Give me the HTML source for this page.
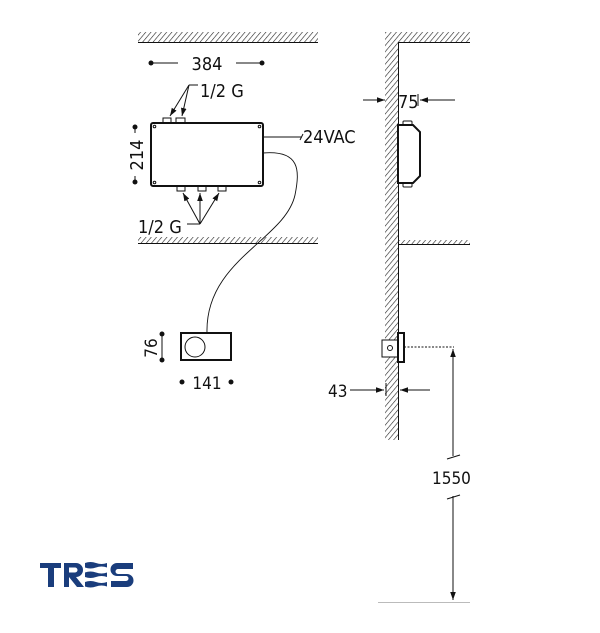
<!DOCTYPE html>
<html><head><meta charset="utf-8"><style>
html,body{margin:0;padding:0;background:#fff}
svg{display:block}
text{font-family:"DejaVu Sans Condensed","DejaVu Sans","Liberation Sans",sans-serif;fill:#111}
</style></head><body>
<svg width="600" height="633" viewBox="0 0 600 633" xmlns="http://www.w3.org/2000/svg">
<defs>
<pattern id="h" width="4" height="4" patternUnits="userSpaceOnUse" patternTransform="rotate(40)">
<line x1="0" y1="0" x2="0" y2="4" stroke="#222" stroke-width="1.2"/>
</pattern>
<marker id="a" viewBox="0 0 10 10" refX="10" refY="5" markerWidth="8" markerHeight="8" orient="auto-start-reverse" markerUnits="userSpaceOnUse">
<path d="M0,1.5 L10,5 L0,8.5 z" fill="#111"/>
</marker>
</defs>
<g stroke="#111" fill="none" stroke-width="1">
<rect x="138" y="32" width="180" height="10" fill="url(#h)" stroke="none"/>
<line x1="138" y1="42.5" x2="318" y2="42.5"/>
<rect x="138" y="237" width="180" height="6" fill="url(#h)" stroke="none"/>
<line x1="138" y1="243.5" x2="318" y2="243.5"/>
<line x1="151" y1="63" x2="178" y2="63"/><line x1="236" y1="63" x2="262" y2="63"/>
<rect x="151" y="123" width="112" height="63" rx="2" stroke-width="2"/>
<circle cx="154.5" cy="126.5" r="1.3"/><circle cx="259.5" cy="126.5" r="1.3"/><circle cx="154.5" cy="182.5" r="1.3"/><circle cx="259.5" cy="182.5" r="1.3"/>
<rect x="163" y="118" width="8" height="5"/><rect x="176" y="118" width="9" height="5"/>
<rect x="177" y="186" width="8" height="5"/><rect x="198" y="186" width="8" height="5"/><rect x="218" y="186" width="8" height="5"/>
<line x1="198" y1="85" x2="189" y2="85"/>
<line x1="189" y1="85" x2="170" y2="116" marker-end="url(#a)"/>
<line x1="189" y1="85" x2="182" y2="116" marker-end="url(#a)"/>
<line x1="187" y1="224" x2="200" y2="224"/>
<line x1="200" y1="224" x2="183" y2="193" marker-end="url(#a)"/>
<line x1="200" y1="224" x2="200" y2="193" marker-end="url(#a)"/>
<line x1="200" y1="224" x2="219" y2="193" marker-end="url(#a)"/>
<line x1="135" y1="127" x2="135" y2="133"/><line x1="135" y1="176" x2="135" y2="182"/>
<line x1="263" y1="137" x2="302" y2="137"/><line x1="300" y1="140" x2="303" y2="134"/>
<path d="M263,153 C300,150 300,170 295,195 C285,240 205,260 207,333" stroke-width="0.9"/>
<rect x="181" y="333" width="50" height="27" stroke-width="2"/>
<circle cx="195" cy="347" r="10"/>
<line x1="162" y1="334" x2="162" y2="360"/>
<rect x="385" y="32" width="13" height="408" fill="url(#h)" stroke="none"/>
<rect x="398" y="32" width="72" height="10" fill="url(#h)" stroke="none"/>
<line x1="398" y1="42.5" x2="470" y2="42.5"/>
<line x1="398.5" y1="42" x2="398.5" y2="440"/>
<rect x="398" y="240" width="72" height="4" fill="url(#h)" stroke="none"/>
<line x1="398" y1="244.5" x2="470" y2="244.5"/>
<line x1="363" y1="100" x2="385" y2="100" marker-end="url(#a)"/>
<line x1="418" y1="94" x2="418" y2="106"/>
<line x1="455" y1="100" x2="420" y2="100" marker-end="url(#a)"/>
<path d="M398,125 L413,125 L420,132 L420,176 L413,183 L398,183 Z" stroke-width="2" fill="#fff"/>
<rect x="403" y="121" width="9" height="4" rx="1"/><rect x="403" y="183" width="9" height="4" rx="1"/>
<rect x="382" y="340" width="16" height="17" fill="#fff"/>
<circle cx="390" cy="348" r="2.5"/>
<rect x="398" y="333" width="6" height="29" stroke-width="2" fill="#fff"/>
<line x1="404" y1="347" x2="454" y2="347" stroke-dasharray="2,1.5"/>
<line x1="453" y1="456" x2="453" y2="349" marker-end="url(#a)"/>
<line x1="453" y1="496" x2="453" y2="600" marker-end="url(#a)"/>
<line x1="447" y1="459" x2="460" y2="455"/><line x1="447" y1="499" x2="460" y2="495"/>
<line x1="378" y1="602.5" x2="470" y2="602.5" stroke="#bbb"/>
<line x1="350" y1="390" x2="384" y2="390" marker-end="url(#a)"/>
<line x1="386" y1="383" x2="386" y2="396"/>
<line x1="430" y1="390" x2="400" y2="390" marker-end="url(#a)"/>
</g>
<g fill="#111">
<circle cx="151" cy="63" r="2.5"/><circle cx="262" cy="63" r="2.5"/>
<circle cx="135" cy="127" r="2.5"/><circle cx="135" cy="182" r="2.5"/>
<circle cx="162" cy="334" r="2.5"/><circle cx="162" cy="360" r="2.5"/>
<circle cx="182" cy="382" r="2.5"/><circle cx="231" cy="382" r="2.5"/>
</g>
<text x="207" y="70" font-size="18" text-anchor="middle">384</text>
<text x="200" y="97" font-size="18">1/2 G</text>
<text x="138" y="233" font-size="18">1/2 G</text>
<text x="0" y="0" font-size="18" text-anchor="middle" transform="translate(143,155) rotate(-90)">214</text>
<text x="303" y="143" font-size="18">24VAC</text>
<text x="0" y="0" font-size="17" text-anchor="middle" transform="translate(157,348) rotate(-90)">76</text>
<text x="207" y="389" font-size="17" text-anchor="middle">141</text>
<text x="398" y="108" font-size="18">75</text>
<text x="328" y="397" font-size="17">43</text>
<text x="432" y="484" font-size="17">1550</text>
<g fill="#1a3d7c">
<rect x="40" y="563" width="21" height="5"/><rect x="48" y="563" width="6" height="24"/>
<path d="M64,563 h12 a7,7 0 0 1 0,14 l8,10 h-7 l-8,-10 h-0 v10 h-5 z M69,567.5 v5 h6 a2.5,2.5 0 0 0 0,-5 z"/>
<path d="M85,563 q5.5,-2 11,0 t11,0 v4.5 q-5.5,-2 -11,0 t-11,0 z"/>
<path d="M85,572.5 q5.5,-2 11,0 t11,0 v4.5 q-5.5,-2 -11,0 t-11,0 z"/>
<path d="M85,582 q5.5,-2 11,0 t11,0 v4.5 q-5.5,-2 -11,0 t-11,0 z"/>
<path d="M133,563 h-16 a6,6 0 0 0 0,13 h9 a1.5,1.5 0 0 1 0,5 h-15 v6 h16 a6.5,6.5 0 0 0 0,-13 h-9 a1.5,1.5 0 0 1 0,-5 h15 z"/>
</g>
</svg>
</body></html>
